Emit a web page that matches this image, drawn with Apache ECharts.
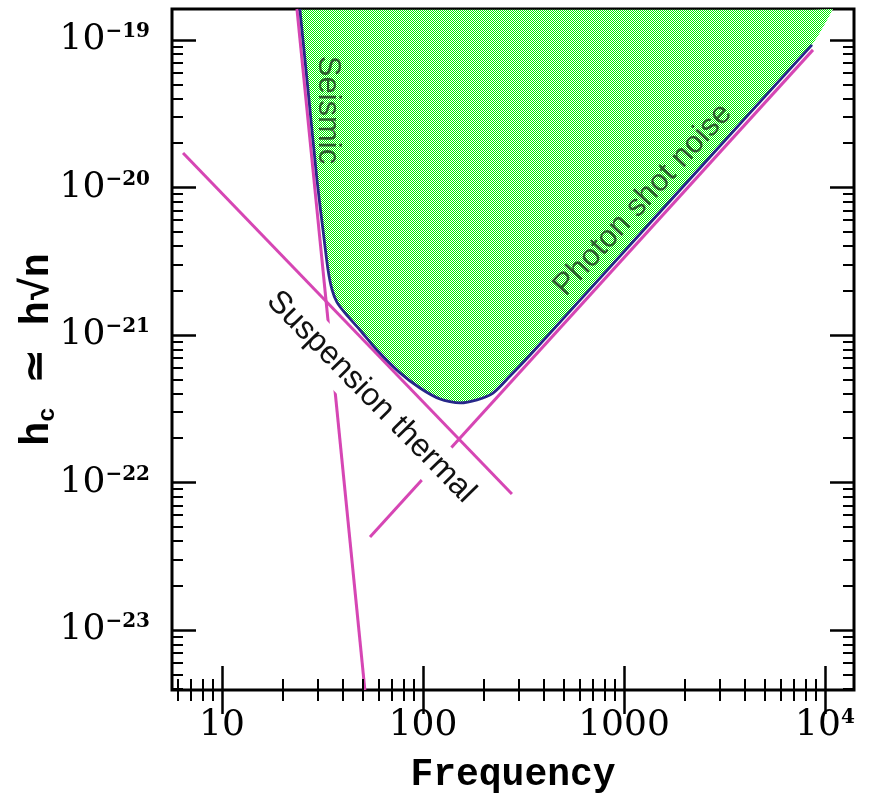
<!DOCTYPE html>
<html>
<head>
<meta charset="utf-8">
<script src="https://cdn.jsdelivr.net/npm/echarts@6/dist/echarts.min.js"></script>
<style>
html,body{margin:0;padding:0;background:#fff;}
#chart{width:872px;height:800px;}
</style>
</head>
<body>
<div id="chart"></div>
<script>
// ---------------- data ----------------
// total noise curve (boundary of the shaded region)
const totalFreq = [24.4, 27.1, 29.7, 31.8, 33.7, 35.3, 37.3, 40.9, 48.6, 59.0, 76.9, 96.6, 121.5, 152.8, 185.7, 223, 271, 341, 539, 1347, 4236, 8616];
const totalH    = [1.62e-19, 3.92e-20, 1.12e-20, 5.15e-21, 2.76e-21, 2.02e-21, 1.67e-21, 1.41e-21, 1.08e-21, 7.91e-22, 5.53e-22, 4.37e-22, 3.68e-22, 3.46e-22, 3.63e-22, 4.04e-22, 5.27e-22, 7.32e-22, 1.45e-21, 5.74e-21, 3.20e-20, 9.25e-20];
// where the shaded region meets the top of the frame on the right
const fillEdgeFreq = [10960];
const fillEdgeH    = [1.62e-19];
// individual noise lines
const seismicFreq = [23.6, 51.4];
const seismicH    = [1.62e-19, 3.92e-24];
const thermalFreq = [6.4, 277];
const thermalH    = [1.71e-20, 8.36e-23];
const shotFreq    = [54.5, 8715];
const shotH       = [4.27e-23, 8.56e-20];
// axes
const xRange = [5.64, 13945];
const yRange = [3.92e-24, 1.62e-19];
const xMajorTicks = [10, 100, 1000, 10000];
const xTickLabels = ['10', '100', '1000', '10^4'];
const yMajorTicks = [1e-23, 1e-22, 1e-21, 1e-20, 1e-19];
const yTickLabels = ['10^-23', '10^-22', '10^-21', '10^-20', '10^-19'];
const xTitle = 'Frequency';

// ---------------- helpers ----------------
function zip(a, b) { return a.map((v, i) => [v, b[i]]); }
function minorTicks(lo, hi) {
  const out = [];
  for (let e = Math.floor(Math.log10(lo)) - 1; e <= Math.ceil(Math.log10(hi)); e++) {
    for (let k = 2; k <= 9; k++) {
      const v = k * Math.pow(10, e);
      if (v >= lo && v <= hi) out.push(v);
    }
  }
  return out;
}
function richTick(str) {
  const p = str.split('^');
  if (p.length > 1) return '{b|' + p[0] + '}{s|' + p[1].replace('-', '\u2212') + '}';
  return '{b|' + str + '}';
}
function labelFor(v, ticks, labels) {
  let best = 0;
  ticks.forEach((t, i) => {
    if (Math.abs(Math.log10(t) - Math.log10(v)) < Math.abs(Math.log10(ticks[best]) - Math.log10(v))) best = i;
  });
  return richTick(labels[best]);
}
const tickRich = {
  b: { fontFamily: 'DejaVu Serif', fontSize: 36, lineHeight: 42, color: '#000' },
  s: { fontFamily: 'DejaVu Serif', fontWeight: 'bold', fontSize: 20, lineHeight: 22, verticalAlign: 'top', color: '#000', padding: [3, 0, 0, 0] }
};

// checkerboard fill pattern
const pat = document.createElement('canvas');
pat.width = 2; pat.height = 2;
const pg = pat.getContext('2d');
pg.fillStyle = '#ffffff'; pg.fillRect(0, 0, 2, 2);
pg.fillStyle = '#00f000'; pg.fillRect(0, 0, 1, 1); pg.fillRect(1, 1, 1, 1);

const MAGENTA = '#d646b4';
const NAVY = '#27278a';

function xAxisDef(pos, major, extra) {
  return Object.assign({
    type: 'log', gridIndex: 0, position: pos, min: xRange[0], max: xRange[1],
    axisLine: { show: false }, splitLine: { show: false }, minorTick: { show: false },
    axisTick: { show: true, inside: true, length: major ? 24 : 11,
      lineStyle: { color: '#000', width: major ? 2.5 : 2 },
      customValues: major ? xMajorTicks : minorTicks(xRange[0], xRange[1]) },
    axisLabel: { show: false },
    z: 10
  }, extra || {});
}
function yAxisDef(pos, major, extra) {
  return Object.assign({
    type: 'log', gridIndex: 0, position: pos, min: yRange[0], max: yRange[1],
    axisLine: { show: false }, splitLine: { show: false }, minorTick: { show: false },
    axisTick: { show: true, inside: true, length: major ? 24 : 11,
      lineStyle: { color: '#000', width: major ? 2.5 : 2 },
      customValues: major ? yMajorTicks : minorTicks(yRange[0], yRange[1]) },
    axisLabel: { show: false },
    z: 10
  }, extra || {});
}

const chart = echarts.init(document.getElementById('chart'), null, { renderer: 'canvas' });

const option = {
  animation: false,
  backgroundColor: '#ffffff',
  grid: {
    left: 172, top: 9, right: 18, bottom: 110,
    containLabel: false, outerBoundsMode: 'none',
    show: true, borderColor: '#000', borderWidth: 3, backgroundColor: 'transparent'
  },
  xAxis: [
    xAxisDef('bottom', true, {
      axisLabel: { show: true, customValues: xMajorTicks, margin: 15,
        formatter: v => labelFor(v, xMajorTicks, xTickLabels), rich: tickRich },
      name: xTitle, nameLocation: 'middle', nameGap: 66, nameMoveOverlap: false,
      nameTextStyle: { fontFamily: 'Liberation Mono', fontWeight: 'bold', fontSize: 38, color: '#000' }
    }),
    xAxisDef('bottom', false),
    xAxisDef('top', true),
    xAxisDef('top', false)
  ],
  yAxis: [
    yAxisDef('left', true, {
      axisLabel: { show: true, customValues: yMajorTicks, margin: 22,
        formatter: v => labelFor(v, yMajorTicks, yTickLabels), rich: tickRich },
      name: '{a|h}{c|c}{a| \u2243 h\u221an}', nameLocation: 'middle', nameGap: 112, nameRotate: 90,
      nameMoveOverlap: false,
      nameTextStyle: {
        rich: {
          a: { fontFamily: 'Liberation Mono', fontWeight: 'bold', fontSize: 40, color: '#000', lineHeight: 44 },
          c: { fontFamily: 'Liberation Mono', fontWeight: 'bold', fontSize: 24, color: '#000', verticalAlign: 'bottom', lineHeight: 30 }
        }
      }
    }),
    yAxisDef('left', false),
    yAxisDef('right', true),
    yAxisDef('right', false)
  ],
  series: [
    {
      name: 'sensitive region', type: 'line', xAxisIndex: 0, yAxisIndex: 0,
      data: zip(totalFreq.concat(fillEdgeFreq), totalH.concat(fillEdgeH)),
      symbol: 'none', smooth: 0.25, silent: true, z: 1,
      lineStyle: { width: 0, opacity: 0 },
      areaStyle: { color: { image: pat, repeat: 'repeat' }, origin: 'end', opacity: 1 }
    },
    {
      name: 'Seismic', type: 'line', data: zip(seismicFreq, seismicH),
      symbol: 'none', silent: true, z: 3, lineStyle: { color: MAGENTA, width: 3 }
    },
    {
      name: 'Suspension thermal', type: 'line', data: zip(thermalFreq, thermalH),
      symbol: 'none', silent: true, z: 3, lineStyle: { color: MAGENTA, width: 3 }
    },
    {
      name: 'Photon shot noise', type: 'line', data: zip(shotFreq, shotH),
      symbol: 'none', silent: true, z: 3, lineStyle: { color: MAGENTA, width: 3 }
    },
    {
      name: 'total', type: 'line', data: zip(totalFreq, totalH),
      symbol: 'none', smooth: 0.25, silent: true, z: 4, lineStyle: { color: NAVY, width: 2.8 }
    }
  ]
};
chart.setOption(option);

// annotations anchored in data coordinates
const notes = [
  { text: 'Seismic', at: [33.7, 3.35e-20], rot: -90, fill: '#2e5e2e', bg: null, size: 31 },
  { text: 'Photon shot noise', at: [1243, 8.23e-21], rot: 47.6, fill: '#2e5e2e', bg: null, size: 31 },
  { text: 'Suspension thermal', at: [55.1, 3.80e-22], rot: -45.5, fill: '#111111', bg: '#ffffff', size: 32 }
];
const graphics = notes.map(n => {
  const p = chart.convertToPixel({ xAxisIndex: 0, yAxisIndex: 0 }, n.at);
  const style = {
    text: n.text, fill: n.fill, font: n.size + 'px "Liberation Sans", Arial, sans-serif',
    align: 'center', verticalAlign: 'middle', lineHeight: 36
  };
  if (n.bg) { style.backgroundColor = n.bg; style.padding = [4, 6]; }
  return { type: 'text', x: p[0], y: p[1], rotation: n.rot * Math.PI / 180, z: 100, silent: true, style: style };
});
chart.setOption({ graphic: graphics });
</script>
</body>
</html>
